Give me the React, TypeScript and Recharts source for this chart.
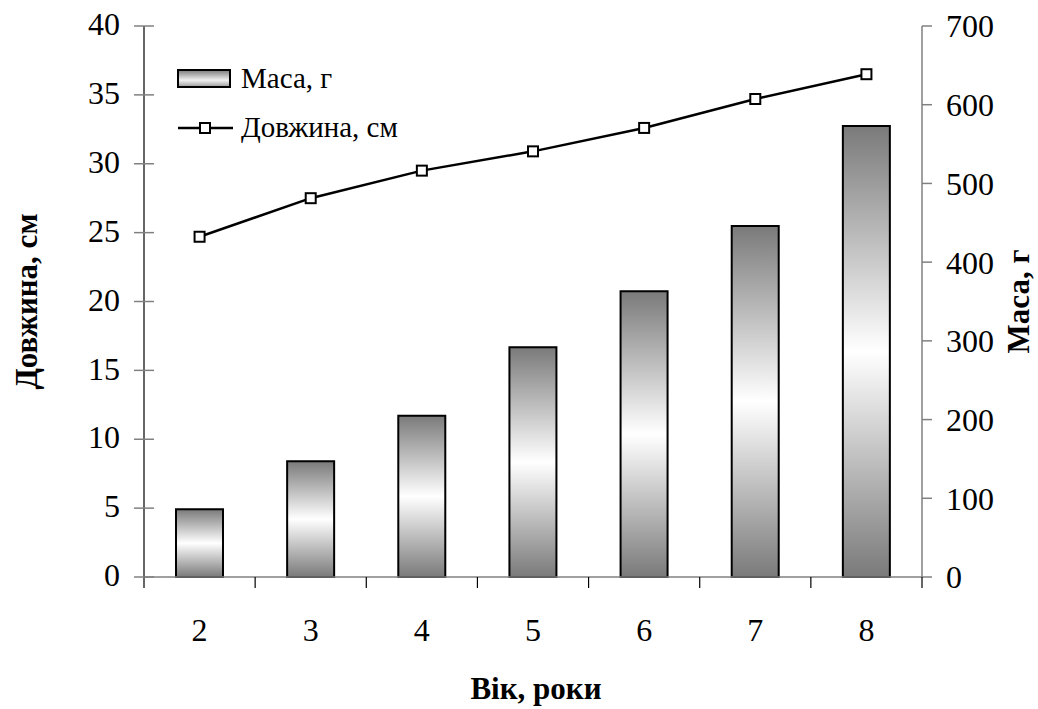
import React from 'react';
import { ComposedChart, Bar, Line, XAxis, YAxis, Legend } from 'recharts';

const ages = ['2', '3', '4', '5', '6', '7', '8'];
const massG = [86, 147, 205, 292, 363, 446, 573];
const lengthCm = [24.7, 27.5, 29.5, 30.9, 32.6, 34.7, 36.5];
const leftTicks = [0, 5, 10, 15, 20, 25, 30, 35, 40];
const rightTicks = [0, 100, 200, 300, 400, 500, 600, 700];

const data = ages.map((a, i) => ({ age: a, mass: massG[i], length: lengthCm[i] }));

const FONT = '"Liberation Serif", "Times New Roman", serif';
const GRAY = '#808080';

const LeftTick: React.FC<any> = ({ x, y, payload }) => (
  <g>
    <line x1={x + 14} x2={x + 34} y1={y} y2={y} stroke={GRAY} strokeWidth={1.5} />
    <text x={x} y={y - 2} dy="0.35em" textAnchor="end" fontFamily={FONT} fontSize={32} fill="#000">
      {payload.value}
    </text>
  </g>
);

const BottomTick: React.FC<any> = ({ x, y, payload, index, visibleTicksCount }) => {
  const half = payload.offset || 0;
  const axisY = y - 41;
  return (
    <g>
      <line x1={x - half} x2={x - half} y1={axisY} y2={axisY + 11} stroke="#000" strokeWidth={1.2} />
      {index === visibleTicksCount - 1 && (
        <line x1={x + half} x2={x + half} y1={axisY} y2={axisY + 11} stroke="#000" strokeWidth={1.2} />
      )}
      <text x={x} y={y} dy="0.71em" textAnchor="middle" fontFamily={FONT} fontSize={32} fill="#000">
        {payload.value}
      </text>
    </g>
  );
};

const SquareDot: React.FC<any> = ({ cx, cy }) => (
  <rect x={cx - 5} y={cy - 5} width={10} height={10} fill="#fff" stroke="#000" strokeWidth={2} />
);

const LegendBox: React.FC = () => (
  <div style={{ fontFamily: FONT, fontSize: 29, color: '#000', lineHeight: '49px' }}>
    <div style={{ display: 'flex', alignItems: 'center' }}>
      <svg width={60} height={20} style={{ marginRight: 5 }}>
        <defs>
          <linearGradient id="legendGrad" x1="0" y1="0" x2="0" y2="1">
            <stop offset="0%" stopColor="#7a7a7a" />
            <stop offset="60%" stopColor="#f0f0f0" />
            <stop offset="100%" stopColor="#9a9a9a" />
          </linearGradient>
        </defs>
        <rect x={2} y={1} width={52} height={17} fill="url(#legendGrad)" stroke="#000" strokeWidth={2} />
      </svg>
      <span>Маса, г</span>
    </div>
    <div style={{ display: 'flex', alignItems: 'center' }}>
      <svg width={60} height={20} style={{ marginRight: 5 }}>
        <line x1={2} x2={57} y1={10} y2={10} stroke="#000" strokeWidth={2.5} />
        <rect x={24} y={5} width={10} height={10} fill="#fff" stroke="#000" strokeWidth={2} />
      </svg>
      <span>Довжина, см</span>
    </div>
  </div>
);

const App: React.FC = () => {
  return (
    <div style={{ position: 'absolute', left: 0, top: 0, width: 1038, height: 709, background: '#fff' }}>
      <ComposedChart width={1038} height={709} data={data} margin={{ top: 26, right: 0, left: 0, bottom: 0 }}>
        <defs>
          <linearGradient id="barGrad" x1="0" y1="0" x2="0" y2="1">
            <stop offset="0%" stopColor="#7a7a7a" />
            <stop offset="50%" stopColor="#ffffff" />
            <stop offset="100%" stopColor="#7a7a7a" />
          </linearGradient>
        </defs>
        <XAxis
          dataKey="age"
          height={132}
          axisLine={{ stroke: GRAY, strokeWidth: 1.5 }}
          tickLine={false}
          tickSize={11}
          tickMargin={30}
          tick={<BottomTick />}
          interval={0}
          label={{
            content: ({ viewBox }: any) => (
              <text
                x={viewBox.x + viewBox.width / 2 + 3}
                y={viewBox.y + 122}
                textAnchor="middle"
                fontFamily={FONT}
                fontSize={31}
                fontWeight="bold"
                fill="#000"
              >
                Вік, роки
              </text>
            ),
          }}
        />
        <YAxis
          yAxisId="left"
          orientation="left"
          width={144}
          domain={[0, 40]}
          ticks={leftTicks}
          interval={0}
          axisLine={{ stroke: '#333', strokeWidth: 1.5 }}
          tickLine={false}
          tickSize={10}
          tickMargin={14}
          tick={<LeftTick />}
          label={{
            content: ({ viewBox }: any) => {
              const cx = viewBox.x + 37;
              const cy = viewBox.y + viewBox.height / 2;
              return (
                <text
                  x={cx}
                  y={cy}
                  transform={`rotate(-90 ${cx} ${cy})`}
                  textAnchor="middle"
                  fontFamily={FONT}
                  fontSize={31}
                  fontWeight="bold"
                  fill="#000"
                >
                  Довжина, см
                </text>
              );
            },
          }}
        />
        <YAxis
          yAxisId="right"
          orientation="right"
          width={116}
          domain={[0, 700]}
          ticks={rightTicks}
          interval={0}
          axisLine={{ stroke: GRAY, strokeWidth: 1.5 }}
          tickLine={{ stroke: GRAY, strokeWidth: 1.5 }}
          tickSize={10}
          tickMargin={14}
          tick={{ fontFamily: FONT, fontSize: 32, fill: '#000' }}
          label={{
            content: ({ viewBox }: any) => {
              const cx = viewBox.x + 107;
              const cy = viewBox.y + viewBox.height / 2;
              return (
                <text
                  x={cx}
                  y={cy}
                  transform={`rotate(-90 ${cx} ${cy})`}
                  textAnchor="middle"
                  fontFamily={FONT}
                  fontSize={31}
                  fontWeight="bold"
                  fill="#000"
                >
                  Маса, г
                </text>
              );
            },
          }}
        />
        <Legend
          layout="vertical"
          align="center"
          verticalAlign="middle"
          content={<LegendBox />}
          wrapperStyle={{ position: 'absolute', left: 176, top: 54, width: 'auto', height: 'auto' }}
        />
        <Bar
          yAxisId="right"
          dataKey="mass"
          name="Маса, г"
          barSize={47}
          fill="url(#barGrad)"
          stroke="#000"
          strokeWidth={2}
          isAnimationActive={false}
        />
        <Line
          yAxisId="left"
          dataKey="length"
          name="Довжина, см"
          stroke="#000"
          strokeWidth={2.5}
          dot={<SquareDot />}
          activeDot={false}
          isAnimationActive={false}
        />
      </ComposedChart>
    </div>
  );
};

export default App;
